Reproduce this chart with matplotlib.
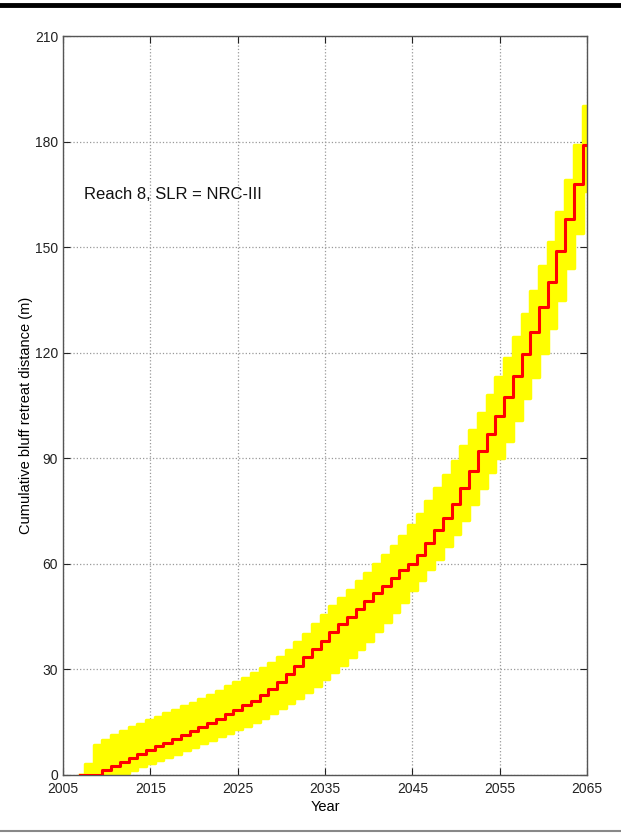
import matplotlib
matplotlib.use("Agg")
import matplotlib.pyplot as plt
import numpy as np

plt.rcParams['font.family'] = ['Liberation Sans', 'DejaVu Sans']

years = list(range(2007, 2066))

median = [0, 0, 0, 1.5, 2.6, 3.7, 4.8, 5.9, 7.0, 8.1,
          9.2, 10.3, 11.4, 12.5, 13.6, 14.8, 16.0, 17.2, 18.4, 19.8,
          21.1, 22.6, 24.4, 26.5, 28.8, 31.1, 33.5, 35.8, 38.2, 40.5,
          42.8, 45.0, 47.2, 49.4, 51.6, 53.8, 56.0, 58.2, 60.0, 62.5,
          66.0, 69.5, 73.0, 77.0, 81.5, 86.5, 92.0, 97.0, 102.0, 107.5,
          113.5, 119.5, 126.0, 133.0, 140.0, 149.0, 158.0, 168.0, 179.0]

lower = [0, 0, 0, 0, 0, 0.5, 1.5, 2.5, 3.4, 4.3,
         5.2, 6.1, 7.0, 8.0, 9.0, 10.0, 11.0, 12.0, 13.0, 14.0,
         15.0, 16.2, 17.5, 19.0, 20.5, 22.0, 23.5, 25.3, 27.2, 29.2,
         31.3, 33.5, 35.8, 38.2, 40.8, 43.5, 46.3, 49.3, 52.5, 55.5,
         58.5, 61.5, 65.0, 68.5, 72.5, 77.0, 81.5, 86.0, 90.0, 95.0,
         101.0, 107.0, 113.0, 120.0, 127.0, 135.0, 144.0, 154.0, 166.0]

upper = [0, 3.0, 8.5, 10.0, 11.5, 12.5, 13.5, 14.5, 15.5, 16.5,
         17.5, 18.5, 19.5, 20.5, 21.6, 22.8, 24.0, 25.2, 26.4, 27.6,
         28.9, 30.3, 31.8, 33.5, 35.5, 37.8, 40.2, 42.8, 45.5, 48.0,
         50.3, 52.6, 55.0, 57.5, 60.0, 62.5, 65.2, 68.0, 71.0, 74.3,
         77.8, 81.5, 85.3, 89.3, 93.5, 98.0, 103.0, 108.0, 113.0, 118.5,
         124.5, 131.0, 137.5, 144.5, 151.5, 160.0, 169.0, 179.0, 190.0]

xticks = [2005, 2015, 2025, 2035, 2045, 2055, 2065]
yticks = [0, 30, 60, 90, 120, 150, 180, 210]
annotation = "Reach 8, SLR = NRC-III"

fig = plt.figure(figsize=(6.21, 8.40), dpi=100)
ax = fig.add_axes([63/621, 1-775/840, 524/621, 739/840])

ax.fill_between(years, lower, upper, step='mid', color='#ffff00', lw=0, zorder=2)
ax.step(years, upper, where='mid', color='#ffff00', lw=2.5, zorder=2)
ax.step(years, lower, where='mid', color='#ffff00', lw=2.5, zorder=2)
ax.step(years, median, where='mid', color='#ff0000', lw=2.2, zorder=3)

ax.set_xlim(2005, 2065)
ax.set_ylim(0, 210)
ax.set_xticks(xticks)
ax.set_yticks(yticks)
ax.tick_params(direction='in', top=True, right=True, length=5, width=0.8,
               labelsize=10, colors='#222222')
ax.tick_params(axis='x', pad=5)
ax.grid(True, linestyle=':', color='#999999', linewidth=0.9, zorder=1)
ax.set_axisbelow(True)
for s in ax.spines.values():
    s.set_color('#555555')
    s.set_linewidth(1.0)

ax.set_xlabel('Year', fontsize=10.5, labelpad=3)
ax.set_ylabel('Cumulative bluff retreat distance (m)', fontsize=10.5)
ax.yaxis.set_label_coords(-30/524, (775-415)/739)
ax.text(2007.4, 165, annotation, fontsize=12, ha='left', va='center', color='#111111')

fig.add_artist(plt.Line2D([0, 1], [1-5/840, 1-5/840], color='black', lw=3.5, transform=fig.transFigure))
fig.add_artist(plt.Line2D([0, 1], [1-831/840, 1-831/840], color='#888888', lw=1.5, transform=fig.transFigure))

fig.savefig('out.png', dpi=100)
